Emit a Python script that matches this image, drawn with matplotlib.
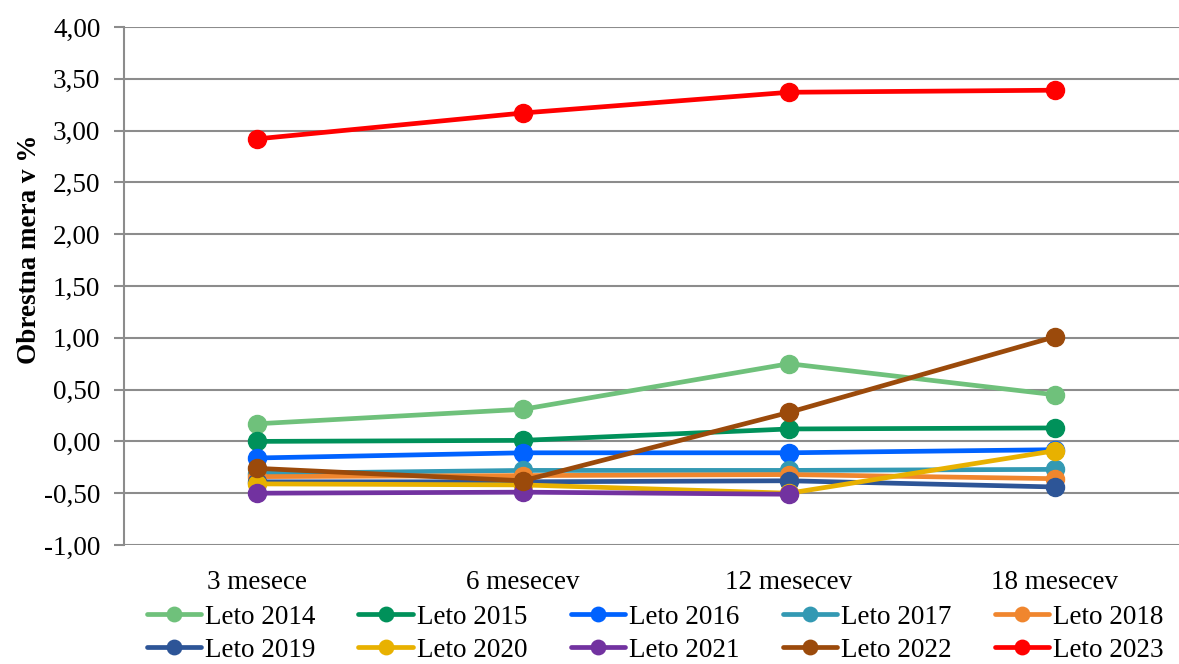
import matplotlib
matplotlib.use("Agg")
import matplotlib.pyplot as plt

# rocnosti depozitov
rocnosti = ["3 mesece", "6 mesecev", "12 mesecev", "18 mesecev"]

leto_2014 = [0.17, 0.31, 0.75, 0.45]
leto_2015 = [0.00, 0.01, 0.12, 0.13]
leto_2016 = [-0.16, -0.11, -0.11, -0.08]
leto_2017 = [-0.31, -0.28, -0.28, -0.27]
leto_2018 = [-0.34, -0.33, -0.32, -0.36]
leto_2019 = [-0.39, -0.39, -0.38, -0.44]
leto_2020 = [-0.41, -0.42, -0.50, -0.09]
leto_2021 = [-0.50, -0.49, -0.51, None]
leto_2022 = [-0.26, -0.38, 0.28, 1.01]
leto_2023 = [2.92, 3.17, 3.37, 3.39]

serije = [
    ("Leto 2014", leto_2014, "#6fc17b"),
    ("Leto 2015", leto_2015, "#00915a"),
    ("Leto 2016", leto_2016, "#0062ff"),
    ("Leto 2017", leto_2017, "#3399b3"),
    ("Leto 2018", leto_2018, "#f0862e"),
    ("Leto 2019", leto_2019, "#2d5597"),
    ("Leto 2020", leto_2020, "#e8b100"),
    ("Leto 2021", leto_2021, "#7232a0"),
    ("Leto 2022", leto_2022, "#9b4a0b"),
    ("Leto 2023", leto_2023, "#ff0000"),
]

plt.rcParams["font.family"] = ["Liberation Serif", "DejaVu Serif"]
fs = 19.5

fig = plt.figure(figsize=(11.79, 6.64), dpi=100)
ax = fig.add_axes([124 / 1179, 1 - 545 / 664, 1064 / 1179, 518 / 664])

x = list(range(len(rocnosti)))
crte = []
for ime, vrednosti, barva in serije:
    xs = [i for i, v in zip(x, vrednosti) if v is not None]
    ys = [v for v in vrednosti if v is not None]
    crta, = ax.plot(xs, ys, color=barva, lw=3.4, marker="o", ms=13,
                    label=ime, solid_capstyle="round", zorder=3)
    crte.append(crta)

ax.set_xlim(-0.5, 3.5)
ax.set_ylim(-1.0, 4.0)
ax.set_yticks([-1 + 0.5 * i for i in range(11)])
ax.set_yticklabels([f"{-1 + 0.5 * i:.2f}".replace(".", ",") for i in range(11)])
ax.set_xticks(x)
ax.set_xticklabels(rocnosti)

ax.grid(axis="y", color="#8c8c8c", lw=1.5)
ax.set_axisbelow(True)
for s in ["top", "right", "bottom"]:
    ax.spines[s].set_visible(False)
ax.spines["left"].set_color("#8c8c8c")
ax.spines["left"].set_linewidth(1.5)
ax.tick_params(axis="y", length=7, width=1.5, color="#8c8c8c", labelsize=fs, pad=10)
ax.tick_params(axis="x", length=0, labelsize=fs, pad=18)

ax.set_ylabel("Obrestna mera v %", fontsize=fs, fontweight="bold")
ax.yaxis.set_label_coords(-0.077, 0.57)

# legenda po vrsticah: 5 stolpcev, 2 vrstici
vrstni_red = [0, 5, 1, 6, 2, 7, 3, 8, 4, 9]
ax.legend([crte[i] for i in vrstni_red], [serije[i][0] for i in vrstni_red],
          loc="upper left", bbox_to_anchor=(0.011, -0.094), ncol=5, frameon=False,
          fontsize=fs, handlelength=2.0, handletextpad=0.15, columnspacing=1.6,
          labelspacing=0.3, borderaxespad=0, markerscale=0.8)

fig.savefig("out.png", dpi=100)
